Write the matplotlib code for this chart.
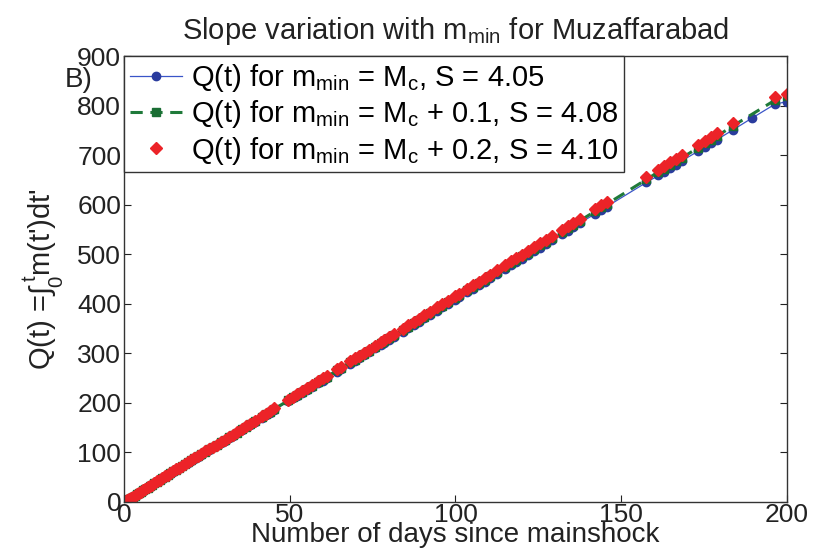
import numpy as np
import matplotlib
matplotlib.use("Agg")
import matplotlib.pyplot as plt

plt.rcParams['font.family'] = ['Liberation Sans', 'DejaVu Sans']
plt.rcParams['mathtext.fontset'] = 'custom'
plt.rcParams['mathtext.rm'] = 'Liberation Sans'
plt.rcParams['mathtext.it'] = 'Liberation Sans'
plt.rcParams['mathtext.sf'] = 'Liberation Sans'

# event times (days since mainshock)
days = [0.0, 0.5, 1.0, 1.5, 2.0, 2.6, 3.2, 3.8, 4.4, 5.0, 5.7, 6.4, 7.1, 7.8, 8.5, 9.2,
        10.0, 10.8, 11.6, 12.4, 13.2, 14.0, 14.9, 15.8, 16.7, 17.6, 18.5, 19.4, 20.3, 21.2,
        22.2, 23.2, 24.4, 25.6, 26.8, 28.0, 29.2, 30.4, 31.6, 32.8, 34.0, 35.6, 36.8, 38.0,
        39.4, 41.6, 42.8, 44.0, 45.4, 49.6, 51.0, 52.2, 53.8, 55.2, 56.8, 58.6, 60.0, 61.2,
        64.4, 65.6, 68.2, 69.6, 71.0, 72.4, 73.8, 75.8, 77.4, 78.4, 80.0, 81.6, 84.2, 85.8,
        87.4, 89.0, 90.6, 92.2, 94.4, 96.0, 97.6, 99.8, 101.0, 103.4, 105.2, 107.0, 108.8,
        110.4, 112.4, 115.0, 116.8, 118.4, 120.0, 121.8, 123.6, 125.4, 127.2, 129.0, 132.0,
        133.8, 135.6, 137.6, 142.2, 144.0, 145.6, 157.6, 161.2, 163.0, 164.8, 166.6, 168.4,
        173.2, 175.2, 177.0, 178.8, 183.7, 189.5, 196.4, 200.0]

# Q(t) for m_min = Mc
q_mc = [0, 2, 4, 6, 8, 11, 13, 16, 18, 20, 23, 26, 29, 32, 35, 38,
        41, 44, 47, 51, 54, 57, 61, 65, 68, 72, 76, 79, 83, 87,
        91, 95, 100, 105, 110, 115, 119, 124, 129, 134, 139, 146, 151, 155,
        161, 170, 175, 180, 186, 203, 209, 213, 220, 226, 232, 240, 245, 250,
        263, 268, 279, 285, 290, 296, 302, 310, 317, 321, 327, 334, 344, 351,
        357, 364, 371, 377, 386, 393, 399, 408, 413, 423, 430, 438, 445,
        452, 460, 470, 478, 484, 491, 498, 506, 513, 520, 528, 540,
        547, 555, 563, 582, 589, 596, 645, 659, 667, 674, 681, 689,
        708, 717, 724, 731, 751, 775, 803, 808]

# Q(t) for m_min = Mc + 0.1
q_mc01 = [0, 2, 4, 6, 8, 11, 13, 16, 18, 21, 24, 26, 29, 32, 35, 38,
          41, 45, 48, 51, 55, 58, 62, 65, 69, 73, 76, 80, 84, 88,
          92, 96, 101, 106, 111, 116, 121, 126, 131, 135, 140, 147, 152, 157,
          163, 172, 177, 182, 188, 205, 211, 216, 222, 228, 235, 242, 248, 253,
          266, 271, 282, 287, 293, 299, 305, 313, 320, 324, 330, 337, 348, 354,
          361, 368, 374, 381, 390, 396, 403, 412, 417, 427, 434, 442, 449,
          456, 464, 475, 482, 489, 496, 503, 510, 518, 525, 533, 545,
          553, 560, 568, 587, 595, 601, 651, 666, 673, 681, 688, 695,
          715, 724, 731, 738, 759, np.nan, 811, 819]

# Q(t) for m_min = Mc + 0.2
q_mc02 = [0, 2, 4, 6, 8, 11, 13, 16, 18, 21, 24, 27, 30, 32, 35, 38,
          42, 45, 48, 52, 55, 58, 62, 66, 69, 73, 77, 81, 84, 88,
          92, 97, 102, 106, 111, 116, 121, 126, 131, 136, 141, 148, 153, 158,
          164, 173, 178, 183, 189, 206, 212, 217, 224, 230, 236, 244, 250, 255,
          268, 273, 284, 290, 295, 301, 307, 315, 322, 326, 333, 339, 350, 357,
          364, 370, 377, 384, 393, 399, 406, 415, 420, 430, 438, 445, 453,
          459, 468, 478, 486, 493, 499, 507, 514, 522, 529, 537, 549,
          557, 564, 572, 592, 599, 606, 656, 671, 678, 686, 693, 701,
          721, 729, 736, 744, 764, np.nan, 817, 823]

labels = [r"Q(t) for m$_{\mathrm{min}}$ = M$_\mathrm{c}$, S = 4.05",
          r"Q(t) for m$_{\mathrm{min}}$ = M$_\mathrm{c}$ + 0.1, S = 4.08",
          r"Q(t) for m$_{\mathrm{min}}$ = M$_\mathrm{c}$ + 0.2, S = 4.10"]

fig = plt.figure(figsize=(8.13, 5.55), dpi=100)
ax = fig.add_axes([0.1525, 0.0955, 0.8155, 0.8035])

d = np.array(days)
g = ~np.isnan(np.array(q_mc01, dtype=float))

ax.plot(d, q_mc, '-o', color='#3a55c8', lw=0.9, ms=6, mfc='#2a3c9e', mec='#2a3c9e',
        label=labels[0])
ax.plot(d[g], np.array(q_mc01, dtype=float)[g], '--s', color='#1f7a3a', lw=2.2, ms=6,
        dashes=(4, 2.5), mfc='#1a6e34', mec='#1a6e34', label=labels[1])
ax.plot(d[g], np.array(q_mc02, dtype=float)[g], 'D', ls='none', ms=5.8,
        mfc='#ec2328', mec='#ec2328', label=labels[2])

ax.set_xlim(0, 200)
ax.set_ylim(0, 900)
ax.set_xticks([0, 50, 100, 150, 200])
ax.set_yticks(range(0, 901, 100))
ax.tick_params(direction='in', top=True, right=True, length=5, width=0.8,
               labelsize=19, colors='#222222', pad=2)
ax.tick_params(axis='x', pad=1)
for s in ax.spines.values():
    s.set_color('#333333')
    s.set_linewidth(1.0)

ax.set_title(r"Slope variation with m$_{\mathrm{min}}$ for Muzaffarabad", fontsize=21,
             pad=12, color='#222222')
ax.set_xlabel("Number of days since mainshock", fontsize=20, labelpad=-4, color='#222222')
ax.set_ylabel(r"Q(t) =$\int_0^{\,t}$m(t')dt'", fontsize=21, labelpad=9, color='#222222')

leg = ax.legend(loc='upper left', borderaxespad=0, fontsize=21, fancybox=False,
                framealpha=1, edgecolor='#333333', handlelength=1.8, handletextpad=0.3,
                labelspacing=0.15, borderpad=0.2)
leg.get_frame().set_linewidth(1.0)

fig.text(0.08, 0.856, "B)", fontsize=20, color='#222222', va='center')

fig.savefig("out.png", dpi=100)
